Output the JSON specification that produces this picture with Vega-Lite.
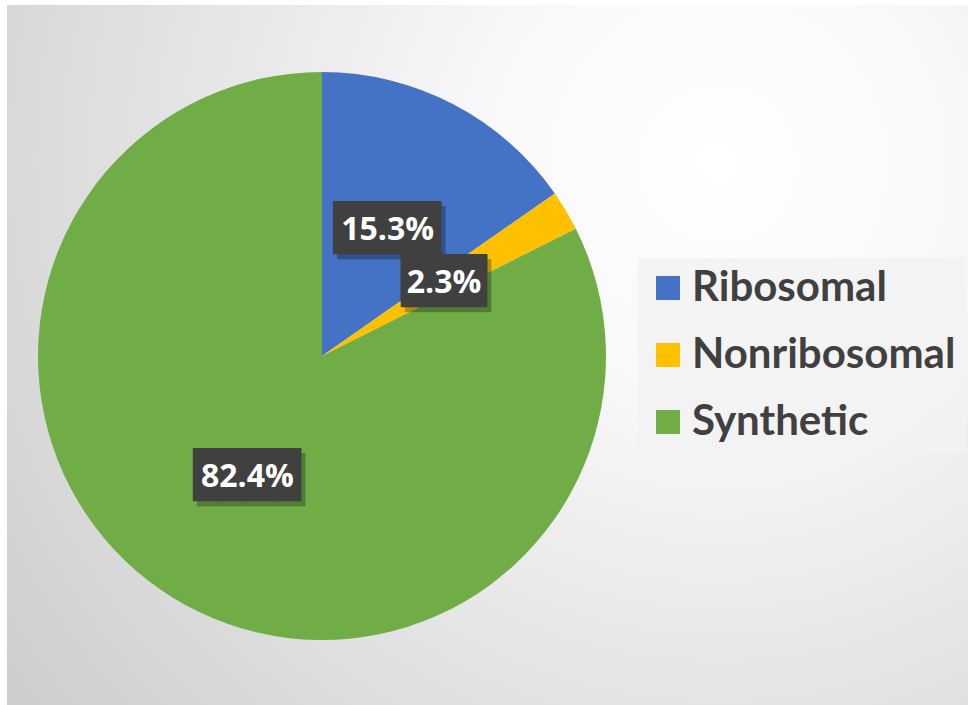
{
  "$schema": "https://vega.github.io/schema/vega-lite/v6.json",
  "width": 968,
  "height": 705,
  "autosize": {"type": "fit", "contains": "padding"},
  "padding": 0,
  "background": "white",
  "config": {"view": {"stroke": null}},
  "data": {"values": [
    {"category": "Ribosomal", "value": 0.153, "rank": 1},
    {"category": "Nonribosomal", "value": 0.023, "rank": 2},
    {"category": "Synthetic", "value": 0.824, "rank": 3}
  ]},
  "layer": [
    {
      "data": {"values": [{}]},
      "mark": {
        "type": "rect", "x": 7, "x2": "width", "y": 5, "y2": "height",
        "fill": {"gradient": "radial", "x1": 0.74, "y1": 0.3, "r1": 0, "x2": 0.74, "y2": 0.3, "r2": 1.0,
          "stops": [{"offset": 0, "color": "#ffffff"}, {"offset": 0.25, "color": "#f8f8f8"}, {"offset": 1, "color": "#c8c8c8"}]}
      },
      "encoding": {}
    },
    {
      "mark": {"type": "arc", "outerRadius": 284, "x": 322, "y": 356},
      "encoding": {
        "theta": {"field": "value", "type": "quantitative", "stack": true},
        "order": {"field": "rank", "type": "quantitative"},
        "color": {
          "field": "category", "type": "nominal",
          "scale": {"domain": ["Ribosomal", "Nonribosomal", "Synthetic"], "range": ["#4472C4", "#FFC000", "#70AD47"]},
          "legend": {
            "title": null, "orient": "none", "legendX": 638, "legendY": 258,
            "symbolType": "square", "symbolSize": 576, "symbolStrokeWidth": 0,
            "labelFont": "Lato", "labelFontSize": 42, "labelFontWeight": "bold", "labelColor": "#404040",
            "labelOffset": 3, "labelLimit": 0,
            "fillColor": "rgba(242,242,242,0.85)", "padding": 9, "rowPadding": 25
          }
        }
      }
    },
    {
      "mark": {"type": "text", "radius": 142, "x": 322, "y": 356, "dx": 4, "dy": 5, "font": "DejaVu Sans Mono", "fontSize": 44.7, "color": "#000000", "opacity": 0.28, "baseline": "middle", "align": "center"},
      "encoding": {
        "theta": {"field": "value", "type": "quantitative", "stack": true},
        "order": {"field": "rank", "type": "quantitative"},
        "text": {"condition": {"test": "datum.value < 0.1", "value": "▕███▏"}, "value": "████"}
      }
    },
    {
      "mark": {"type": "text", "radius": 142, "x": 322, "y": 356, "font": "DejaVu Sans Mono", "fontSize": 44.7, "color": "#404040", "baseline": "middle", "align": "center"},
      "encoding": {
        "theta": {"field": "value", "type": "quantitative", "stack": true},
        "order": {"field": "rank", "type": "quantitative"},
        "text": {"condition": {"test": "datum.value < 0.1", "value": "▕███▏"}, "value": "████"}
      }
    },
    {
      "mark": {"type": "text", "radius": 142, "x": 322, "y": 356, "font": "Open Sans", "fontSize": 32, "fontWeight": "bold", "color": "#ffffff", "baseline": "middle", "align": "center"},
      "encoding": {
        "theta": {"field": "value", "type": "quantitative", "stack": true},
        "order": {"field": "rank", "type": "quantitative"},
        "text": {"field": "value", "type": "quantitative", "format": ".1%"}
      }
    }
  ]
}
